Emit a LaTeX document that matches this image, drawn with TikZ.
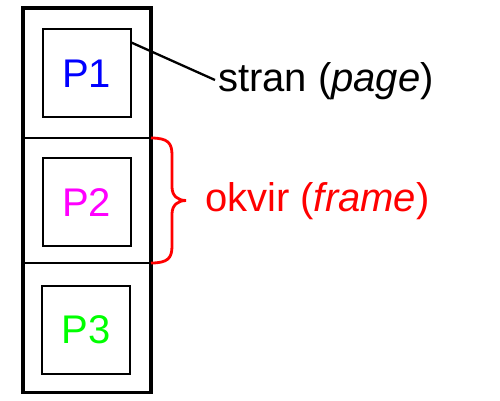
\documentclass[tikz,border=0pt]{standalone}
\usepackage{fontspec}
\setmainfont{Liberation Sans}
\usetikzlibrary{calc}
\definecolor{pblue}{RGB}{0,0,255}
\definecolor{pmag}{RGB}{255,0,255}
\definecolor{pgreen}{RGB}{0,255,0}
\definecolor{pred}{RGB}{255,0,0}
\tikzset{
  framebox/.style={draw, line width=2.5pt, minimum width=128pt, outer sep=0pt, inner sep=0pt},
  pagebox/.style={draw, line width=2pt, minimum width=88pt, minimum height=88pt, outer sep=0pt, inner sep=0pt,
    font=\fontsize{40}{48}\selectfont},
  lbl/.style={font=\fontsize{40}{48}\selectfont, inner sep=0pt, outer sep=0pt, anchor=base west},
  bracestyle/.style={draw=pred, line width=2.8pt},
}
\begin{document}
\begin{tikzpicture}[x=1pt,y=-1pt]
\useasboundingbox (0,0) rectangle (500,400);
\node[framebox, minimum height=130pt] (f1) at (87,73) {};
\node[framebox, minimum height=125pt] (f2) at (87,200.5) {};
\node[framebox, minimum height=129.5pt] (f3) at (87,327.75) {};
\draw[line width=3.6pt] (23,8) rectangle (151,392.5);
\node[pagebox, text=pblue] (p1) at (86.75,73.25) {P1};
\node[pagebox, text=pmag] (p2) at (86.6,202.25) {P2};
\node[pagebox, text=pgreen] (p3) at (86.3,329.6) {P3};
\node[lbl] (page) at (218,91) {stran (\textit{page})};
\node[lbl, text=pred] (frame) at (205,211) {okvir (\textit{frame})};
\coordinate (pageend) at (215,80);
\draw[line width=2.3pt] ($(p1.north east)+(0,13)$) -- (pageend);
\draw[bracestyle] (f2.north east) .. controls (168,138) and (172,143) .. (172,155)
  -- (172,187) .. controls (172,196) and (178,200.5) .. (186,200.5)
  .. controls (178,200.5) and (172,205) .. (172,214)
  -- (172,246) .. controls (172,258) and (168,263) .. (f2.south east);
\end{tikzpicture}
\end{document}
